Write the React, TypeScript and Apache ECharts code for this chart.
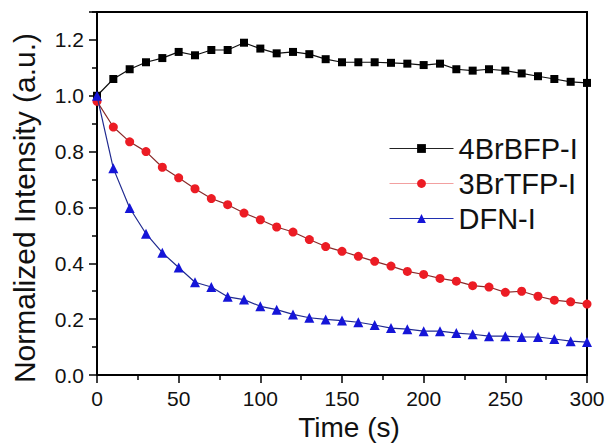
import React, { useEffect, useRef } from "react";
import * as echarts from "echarts";

const timeS = [0, 10, 20, 30, 40, 50, 60, 70, 80, 90, 100, 110, 120, 130, 140, 150, 160, 170, 180, 190, 200, 210, 220, 230, 240, 250, 260, 270, 280, 290, 300];
const bfp4Br = [1.0, 1.06, 1.095, 1.12, 1.135, 1.157, 1.145, 1.164, 1.164, 1.19, 1.169, 1.152, 1.157, 1.149, 1.131, 1.12, 1.12, 1.12, 1.118, 1.115, 1.11, 1.115, 1.095, 1.09, 1.095, 1.09, 1.08, 1.07, 1.06, 1.05, 1.046];
const tfp3Br = [0.98, 0.888, 0.835, 0.8, 0.744, 0.706, 0.667, 0.632, 0.61, 0.58, 0.556, 0.53, 0.512, 0.485, 0.46, 0.443, 0.425, 0.407, 0.39, 0.371, 0.36, 0.346, 0.336, 0.32, 0.315, 0.296, 0.3, 0.282, 0.268, 0.262, 0.254];
const dfn = [1.0, 0.74, 0.598, 0.506, 0.438, 0.385, 0.332, 0.315, 0.28, 0.27, 0.246, 0.234, 0.217, 0.205, 0.199, 0.195, 0.189, 0.179, 0.168, 0.164, 0.157, 0.157, 0.15, 0.146, 0.139, 0.139, 0.136, 0.136, 0.129, 0.121, 0.118];
const seriesNames = ["4BrBFP-I", "3BrTFP-I", "DFN-I"];
const xTitle = "Time (s)";
const yTitle = "Normalized Intensity (a.u.)";

const FONT = "'Liberation Sans', Arial, sans-serif";

function pairs(ys: number[]) {
  return timeS.map((t, i) => [t, ys[i]]);
}

export default function App() {
  const ref = useRef<HTMLDivElement>(null);
  useEffect(() => {
    if (!ref.current) return;
    const chart = echarts.init(ref.current, null, { renderer: "svg" });
    chart.setOption({
      animation: false,
      backgroundColor: "#fff",
      textStyle: { fontFamily: FONT },
      grid: {
        left: 97,
        right: 21,
        top: 12,
        bottom: 68,
        show: true,
        borderColor: "#000",
        borderWidth: 2,
        backgroundColor: "transparent",
      },
      legend: {
        orient: "vertical",
        left: 389,
        top: 134,
        padding: 0,
        itemWidth: 64,
        itemHeight: 11,
        itemGap: 6,
        textStyle: { fontFamily: FONT, fontSize: 29, color: "#111", lineHeight: 29, padding: [0, 0, 0, 0] },
        data: [
          { name: seriesNames[0], lineStyle: { color: "#222", width: 1 } },
          { name: seriesNames[1], lineStyle: { color: "#f2a0a0", width: 1 } },
          { name: seriesNames[2], lineStyle: { color: "#2030b0", width: 1 } },
        ],
      },
      graphic: [
        {
          type: "text",
          x: 349,
          y: 427,
          style: {
            text: xTitle,
            fontFamily: FONT,
            fontSize: 28,
            fill: "#111",
            align: "center",
            verticalAlign: "middle",
          },
        },
        {
          type: "text",
          x: 24,
          y: 208,
          rotation: Math.PI / 2,
          style: {
            text: yTitle,
            fontFamily: FONT,
            fontSize: 30,
            fill: "#111",
            align: "center",
            verticalAlign: "middle",
          },
        },
      ],
      xAxis: {
        type: "value",
        min: 0,
        max: 300,
        interval: 50,
        axisLine: { show: true, onZero: false, lineStyle: { color: "#000", width: 2 } },
        axisTick: { show: true, inside: false, length: 8, lineStyle: { color: "#000", width: 1.5 } },
        minorTick: { show: true, splitNumber: 2, length: 5, lineStyle: { color: "#000", width: 1.5 } },
        axisLabel: { fontFamily: FONT, fontSize: 21, color: "#111", margin: 13 },
        splitLine: { show: false },
      },
      yAxis: {
        type: "value",
        min: 0,
        max: 1.3,
        interval: 0.2,
        axisLine: { show: true, onZero: false, lineStyle: { color: "#000", width: 2 } },
        axisTick: { show: true, inside: false, length: 8, lineStyle: { color: "#000", width: 1.5 } },
        minorTick: { show: true, splitNumber: 2, length: 5, lineStyle: { color: "#000", width: 1.5 } },
        axisLabel: {
          fontFamily: FONT,
          fontSize: 21,
          color: "#111",
          margin: 13,
          showMaxLabel: false,
          formatter: (v: number) => v.toFixed(1),
        },
        splitLine: { show: false },
      },
      series: [
        {
          name: seriesNames[0],
          type: "line",
          data: pairs(bfp4Br),
          symbol: "rect",
          symbolSize: 8,
          itemStyle: { color: "#000" },
          lineStyle: { color: "#111", width: 1.2 },
          z: 3,
        },
        {
          name: seriesNames[1],
          type: "line",
          data: pairs(tfp3Br),
          symbol: "circle",
          symbolSize: 9,
          itemStyle: { color: "#ec1c24" },
          lineStyle: { color: "#8a2a2a", width: 1.2 },
          z: 2,
        },
        {
          name: seriesNames[2],
          type: "line",
          data: pairs(dfn),
          symbol: "triangle",
          symbolSize: 10,
          itemStyle: { color: "#1515d8" },
          lineStyle: { color: "#202a90", width: 1.2 },
          z: 4,
        },
      ],
    });
    return () => chart.dispose();
  }, []);
  return (
    <div
      ref={ref}
      style={{ position: "fixed", left: 0, top: 0, width: 608, height: 443, background: "#fff" }}
    />
  );
}
